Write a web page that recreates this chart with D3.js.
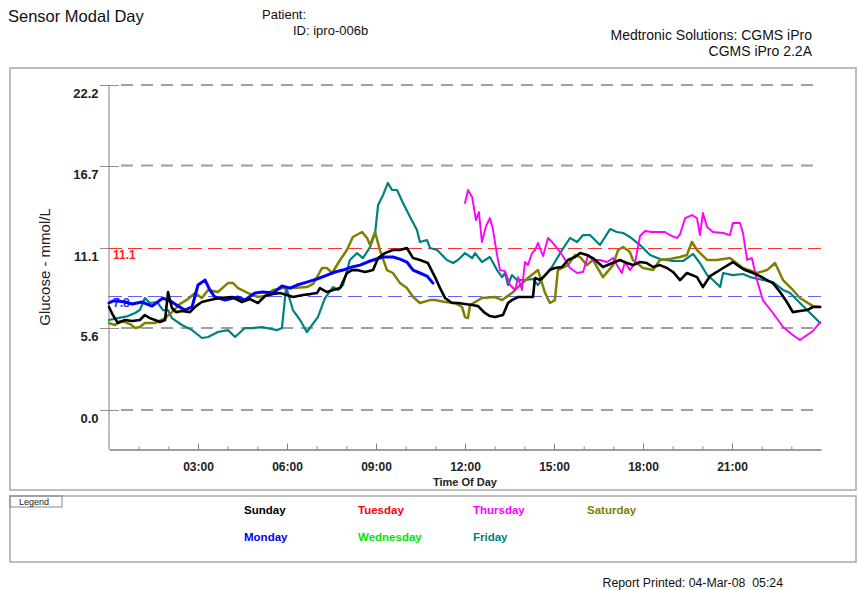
<!DOCTYPE html>
<html><head><meta charset="utf-8">
<script src="https://cdn.jsdelivr.net/npm/d3@7"></script>
<style>
body{margin:0;background:#fff;}
svg{display:block;font-family:"Liberation Sans",Arial,sans-serif;}
</style></head><body>
<svg id="c" width="858" height="590"></svg>
<script>
// ---------- data ----------
const legendDays = ["Sunday","Tuesday","Thursday","Saturday","Monday","Wednesday","Friday"];
const legendColors = ["#000000","#ff0000","#ff00ff","#808000","#0000ff","#00e600","#008080"];
const yTickValues = [0.0, 5.6, 11.1, 16.7, 22.2];
const xMinorHours = [1,2,3,4,5,6,7,8,9,10,11,12,13,14,15,16,17,18,19,20,21,22,23];
const xMajorHours = [3,6,9,12,15,18,21];
const xTickLabels = ["03:00","06:00","09:00","12:00","15:00","18:00","21:00"];
const highLimit = 11.1;
const lowLimit = 7.8;

// [hour of day, glucose mmol/L]
const sunday = [[0,7.04],[0.13,6.49],[0.30,5.94],[0.54,6.15],[0.78,6.08],[1.04,6.15],[1.21,6.49],[1.38,6.28],[1.55,6.15],[1.72,6.01],[1.89,6.15],[1.99,8.06],[2.12,6.97],[2.26,6.69],[2.46,6.76],[2.73,6.69],[2.93,7.10],[3.13,7.38],[3.40,7.51],[3.74,7.65],[4.15,7.72],[4.48,7.38],[4.75,7.58],[5.02,7.31],[5.26,7.79],[5.53,7.92],[5.76,7.99],[6.00,7.86],[6.20,7.72],[6.54,7.86],[6.78,7.92],[7.01,7.99],[7.11,8.33],[7.35,8.06],[7.55,8.20],[7.79,8.33],[8.02,9.36],[8.19,9.56],[8.36,9.56],[8.63,9.43],[8.90,9.56],[9.07,10.38],[9.30,10.72],[9.57,10.93],[9.81,10.93],[10.04,11.07],[10.25,10.38],[10.48,10.25],[10.75,10.04],[10.99,9.08],[11.16,8.33],[11.33,7.65],[11.56,7.31],[11.76,7.31],[12.00,7.24],[12.24,7.17],[12.44,7.10],[12.67,6.63],[12.84,6.42],[13.01,6.35],[13.28,6.49],[13.45,7.31],[13.58,7.51],[13.79,7.72],[14.12,7.72],[14.29,7.72],[14.36,9.02],[14.53,8.88],[14.70,9.22],[14.86,9.56],[15.03,9.70],[15.27,9.77],[15.47,10.25],[15.71,10.45],[15.88,10.72],[16.11,10.59],[16.31,10.38],[16.65,9.77],[16.89,9.97],[17.22,10.25],[17.46,10.04],[17.66,9.90],[17.90,10.11],[18.13,10.04],[18.34,9.77],[18.57,9.90],[18.81,9.70],[19.01,9.43],[19.25,8.88],[19.48,9.36],[19.65,9.22],[19.82,9.08],[20.02,8.40],[20.26,9.15],[20.49,9.43],[20.70,9.70],[21.03,10.11],[21.27,9.77],[21.44,9.56],[21.71,9.36],[21.94,9.15],[22.18,8.88],[22.38,8.67],[22.62,8.06],[22.85,7.38],[23.05,6.69],[23.29,6.76],[23.53,6.83],[23.73,7.04],[23.97,7.04]];

const monday = [[0,7.31],[0.13,7.45],[0.30,7.45],[0.54,7.38],[0.78,7.24],[1.11,7.38],[1.45,7.10],[1.82,7.65],[2.12,7.38],[2.33,7.10],[2.56,6.83],[2.80,7.04],[3.00,8.54],[3.24,8.88],[3.40,8.20],[3.57,7.72],[3.91,7.51],[4.35,7.72],[4.58,7.51],[4.92,7.99],[5.19,8.06],[5.53,7.99],[5.83,8.47],[6.10,8.33],[6.34,8.54],[6.67,8.74],[7.01,8.95],[7.35,9.22],[7.62,9.43],[7.89,9.56],[8.19,9.77],[8.46,9.90],[8.80,10.18],[9.23,10.45],[9.57,10.45],[9.81,10.31],[10.04,10.11],[10.25,9.56],[10.48,9.36],[10.72,9.15],[10.92,8.67]];

const thursday = [[12.00,14.14],[12.10,15.03],[12.24,14.55],[12.37,12.98],[12.47,13.52],[12.57,11.48],[12.71,12.57],[12.84,13.11],[12.94,12.36],[13.08,10.59],[13.18,9.56],[13.35,9.49],[13.52,8.54],[13.69,8.20],[13.79,9.08],[13.92,8.20],[14.02,10.11],[14.12,9.90],[14.26,10.72],[14.36,10.93],[14.46,11.41],[14.63,10.52],[14.80,11.75],[14.93,11.48],[15.10,11.07],[15.30,10.52],[15.54,9.70],[15.78,9.36],[15.98,9.43],[16.15,10.59],[16.31,10.25],[16.55,10.25],[16.79,10.11],[16.99,10.38],[17.16,9.77],[17.29,9.36],[17.39,10.11],[17.56,9.56],[17.73,10.04],[17.90,11.89],[18.07,12.23],[18.30,12.16],[18.51,12.16],[18.74,12.16],[18.91,11.95],[19.15,11.75],[19.25,12.02],[19.42,13.11],[19.65,13.32],[19.82,13.11],[19.92,11.95],[20.02,13.46],[20.16,12.50],[20.36,12.16],[20.70,12.09],[20.93,11.95],[21.03,12.77],[21.27,12.77],[21.37,12.09],[21.51,10.25],[21.67,10.38],[21.84,8.88],[22.04,7.51],[22.38,6.63],[22.72,5.67],[23.05,5.12],[23.29,4.78],[23.53,5.12],[23.73,5.40],[23.97,6.01]];

const friday = [[0,6.15],[0.30,6.28],[0.64,6.42],[0.88,6.63],[1.04,6.83],[1.21,7.65],[1.38,7.31],[1.62,7.38],[1.82,6.83],[1.99,6.83],[2.12,6.28],[2.46,5.81],[2.80,5.46],[3.13,4.92],[3.34,4.99],[3.67,5.33],[4.01,5.46],[4.25,4.99],[4.58,5.60],[4.82,5.60],[5.16,5.67],[5.66,5.46],[5.83,5.60],[5.97,8.40],[6.20,6.83],[6.44,6.15],[6.67,5.33],[7.04,6.35],[7.28,7.65],[7.55,8.40],[7.72,8.20],[7.89,8.54],[8.12,10.25],[8.36,10.72],[8.56,10.38],[8.80,11.13],[8.97,12.09],[9.07,14.00],[9.24,14.69],[9.40,15.51],[9.54,15.03],[9.71,15.03],[9.91,14.14],[10.15,13.18],[10.38,12.30],[10.48,11.48],[10.72,11.61],[10.82,11.07],[11.06,10.93],[11.39,10.25],[11.60,10.04],[11.76,10.25],[12.00,10.72],[12.24,10.38],[12.34,10.72],[12.57,10.11],[12.84,10.45],[13.08,9.56],[13.25,9.08],[13.35,9.36],[13.45,8.54],[13.58,9.22],[13.75,8.88],[14.02,8.88],[14.29,8.95],[14.46,8.54],[14.60,8.95],[14.93,9.77],[15.27,10.93],[15.54,11.75],[15.78,11.48],[15.98,11.95],[16.21,11.95],[16.55,11.27],[16.89,12.36],[17.12,12.16],[17.33,12.09],[17.56,11.82],[17.90,11.27],[18.24,10.59],[18.57,10.31],[19.01,10.18],[19.35,10.18],[19.69,10.66],[19.92,10.04],[20.16,9.22],[20.36,8.88],[20.60,8.40],[20.70,9.36],[21.03,9.22],[21.37,9.29],[21.61,9.08],[22.04,8.88],[22.38,8.74],[22.72,8.20],[22.96,7.99],[23.19,7.51],[23.53,6.83],[23.87,6.15],[23.97,5.94]];

const saturday = [[0,5.94],[0.20,5.81],[0.37,6.08],[0.54,6.01],[0.71,5.87],[0.88,5.60],[1.04,5.67],[1.21,5.94],[1.55,5.94],[1.89,6.28],[2.12,6.69],[2.39,7.24],[2.66,7.58],[2.90,7.99],[3.13,7.65],[3.34,8.20],[3.67,8.06],[4.01,8.67],[4.18,8.67],[4.35,8.33],[4.69,7.99],[5.02,7.72],[5.26,7.79],[5.53,8.20],[5.87,8.33],[6.20,8.33],[6.67,8.40],[6.88,8.61],[7.18,9.70],[7.35,9.70],[7.52,9.36],[7.79,10.25],[8.02,10.93],[8.22,11.82],[8.53,12.16],[8.70,11.75],[8.80,11.27],[8.97,12.16],[9.13,10.93],[9.37,9.56],[9.57,9.36],[9.81,8.67],[10.04,8.33],[10.25,7.72],[10.48,7.31],[10.82,7.51],[10.99,7.51],[11.33,7.38],[11.66,7.31],[11.90,7.04],[12.00,6.35],[12.10,6.28],[12.17,7.17],[12.57,7.65],[13.01,7.72],[13.25,7.51],[13.58,7.99],[13.79,8.40],[14.12,9.02],[14.46,9.56],[14.70,7.99],[14.86,7.31],[15.03,7.51],[15.13,9.56],[15.47,9.90],[15.71,10.59],[15.88,10.45],[16.11,9.90],[16.31,10.25],[16.65,9.08],[16.99,9.90],[17.16,10.93],[17.33,11.13],[17.56,10.79],[17.66,10.25],[18.00,9.70],[18.34,9.56],[18.57,10.25],[18.91,10.31],[19.25,10.45],[19.48,10.59],[19.65,11.48],[19.82,10.93],[20.16,10.25],[20.49,10.25],[20.93,10.38],[21.37,9.70],[21.84,9.36],[22.18,9.56],[22.45,10.04],[22.72,8.88],[23.05,8.20],[23.29,7.65],[23.73,7.10],[23.97,7.04]];

const series = [
  {name:"Friday", data:friday, color:"#008080", width:2.2},
  {name:"Saturday", data:saturday, color:"#808000", width:2.5},
  {name:"Thursday", data:thursday, color:"#ff00ff", width:1.9},
  {name:"Monday", data:monday, color:"#0000ff", width:3},
  {name:"Sunday", data:sunday, color:"#000000", width:2.6}
];

// ---------- drawing ----------
const svg = d3.select("#c");
const x = d3.scaleLinear().domain([0,24]).range([109,821]);
const y = d3.scaleLinear().domain([-2.66,22.2]).range([449,85]);
const snap = v => Math.round(v) + 0.5;

// header
svg.append("text").attr("x",8).attr("y",22).attr("font-size",16.5).attr("fill","#111").text("Sensor Modal Day");
svg.append("text").attr("x",262).attr("y",19).attr("font-size",13).attr("fill","#111").text("Patient:");
svg.append("text").attr("x",293).attr("y",35).attr("font-size",13).attr("fill","#111").text("ID: ipro-006b");
svg.append("text").attr("x",812).attr("y",40).attr("font-size",14).attr("text-anchor","end").attr("fill","#111").text("Medtronic Solutions: CGMS iPro");
svg.append("text").attr("x",812).attr("y",56).attr("font-size",14).attr("text-anchor","end").attr("fill","#111").text("CGMS iPro 2.2A");

// panels
svg.append("rect").attr("x",10).attr("y",68).attr("width",846).attr("height",422)
  .attr("fill","none").attr("stroke","#a8a8a8").attr("stroke-width",1.5);
svg.append("rect").attr("x",10).attr("y",496).attr("width",846).attr("height",66)
  .attr("fill","none").attr("stroke","#a8a8a8").attr("stroke-width",1.5);
svg.append("rect").attr("x",10).attr("y",496).attr("width",52).attr("height",11)
  .attr("fill","none").attr("stroke","#888").attr("stroke-width",1);
svg.append("text").attr("x",19).attr("y",505).attr("font-size",9).attr("fill","#222").text("Legend");

// gridlines
const gridVals = yTickValues.filter(v => v !== highLimit);
svg.append("g").selectAll("line").data(gridVals).join("line")
  .attr("x1",121).attr("x2",821).attr("y1",d=>y(d)).attr("y2",d=>y(d))
  .attr("stroke","#a0a0a0").attr("stroke-width",2).attr("stroke-dasharray","12,8");
// y ticks crossing the axis
svg.append("g").selectAll("line").data(yTickValues).join("line")
  .attr("x1",100).attr("x2",119).attr("y1",d=>snap(y(d))).attr("y2",d=>snap(y(d)))
  .attr("stroke","#909090").attr("stroke-width",1);
// limit lines
svg.append("line").attr("x1",108).attr("x2",821).attr("y1",snap(y(highLimit))).attr("y2",snap(y(highLimit)))
  .attr("stroke","#ff3030").attr("stroke-width",1.2).attr("stroke-dasharray","14,6");
svg.append("line").attr("x1",108).attr("x2",821).attr("y1",snap(y(lowLimit))).attr("y2",snap(y(lowLimit)))
  .attr("stroke","#6060ff").attr("stroke-width",1.2).attr("stroke-dasharray","14,6");
svg.append("text").attr("x",113).attr("y",y(highLimit)+11).attr("font-size",12).attr("font-weight","bold")
  .attr("fill","#ff2020").text(highLimit.toFixed(1));
svg.append("text").attr("x",113).attr("y",y(lowLimit)+11).attr("font-size",12).attr("font-weight","bold")
  .attr("fill","#3030ff").text(lowLimit.toFixed(1));

// y axis
const yAxis = svg.append("g").attr("transform","translate(108.5,0)")
  .call(d3.axisLeft(y).tickValues(yTickValues).tickSize(0).tickPadding(10).tickFormat(d3.format(".1f")));
yAxis.select(".domain").attr("stroke","#808080");
yAxis.selectAll("text").attr("font-size",13).attr("font-weight","bold").attr("fill","#222")
  .attr("dy","0.98em").attr("font-family","Liberation Sans, Arial, sans-serif");

// x axis
const xMinor = svg.append("g").attr("transform","translate(0,449.5)")
  .call(d3.axisBottom(x).tickValues(xMinorHours).tickSize(-3).tickSizeOuter(0).tickFormat(""));
xMinor.selectAll("line").attr("stroke","#808080");
xMinor.select(".domain").attr("stroke","#808080");
const xMajor = svg.append("g").attr("transform","translate(0,449.5)")
  .call(d3.axisBottom(x).tickValues(xMajorHours).tickSize(-6).tickSizeOuter(0).tickPadding(13)
    .tickFormat((d,i)=>xTickLabels[i]));
xMajor.select(".domain").attr("stroke","#808080");
xMajor.selectAll("line").attr("stroke","#808080");
xMajor.selectAll("text").attr("font-size",12).attr("font-weight","bold").attr("fill","#222")
  .attr("font-family","Liberation Sans, Arial, sans-serif");

svg.append("text").attr("x",465).attr("y",486).attr("text-anchor","middle").attr("font-size",11)
  .attr("font-weight","bold").attr("fill","#222").text("Time Of Day");
svg.append("text").attr("transform","translate(50,267) rotate(-90)").attr("text-anchor","middle")
  .attr("font-size",15).attr("fill","#222").text("Glucose - mmol/L");

// series
const line = d3.line().x(d=>x(d[0])).y(d=>y(d[1]));
svg.append("g").selectAll("path").data(series).join("path")
  .attr("d",d=>line(d.data)).attr("fill","none")
  .attr("stroke",d=>d.color).attr("stroke-width",d=>d.width)
  .attr("stroke-linejoin","round").attr("stroke-linecap","round");

// legend
const legX = [244,358,473,587,244,358,473];
const legY = [514,514,514,514,541,541,541];
svg.append("g").selectAll("text").data(legendDays).join("text")
  .attr("x",(d,i)=>legX[i]).attr("y",(d,i)=>legY[i])
  .attr("font-size",11.5).attr("font-weight","bold")
  .attr("fill",(d,i)=>legendColors[i]).text(d=>d);

// footer
svg.append("text").attr("x",783).attr("y",587).attr("text-anchor","end").attr("font-size",12.3)
  .attr("fill","#111").attr("xml:space","preserve").style("white-space","pre")
  .text("Report Printed: 04-Mar-08  05:24");
</script>
</body></html>
